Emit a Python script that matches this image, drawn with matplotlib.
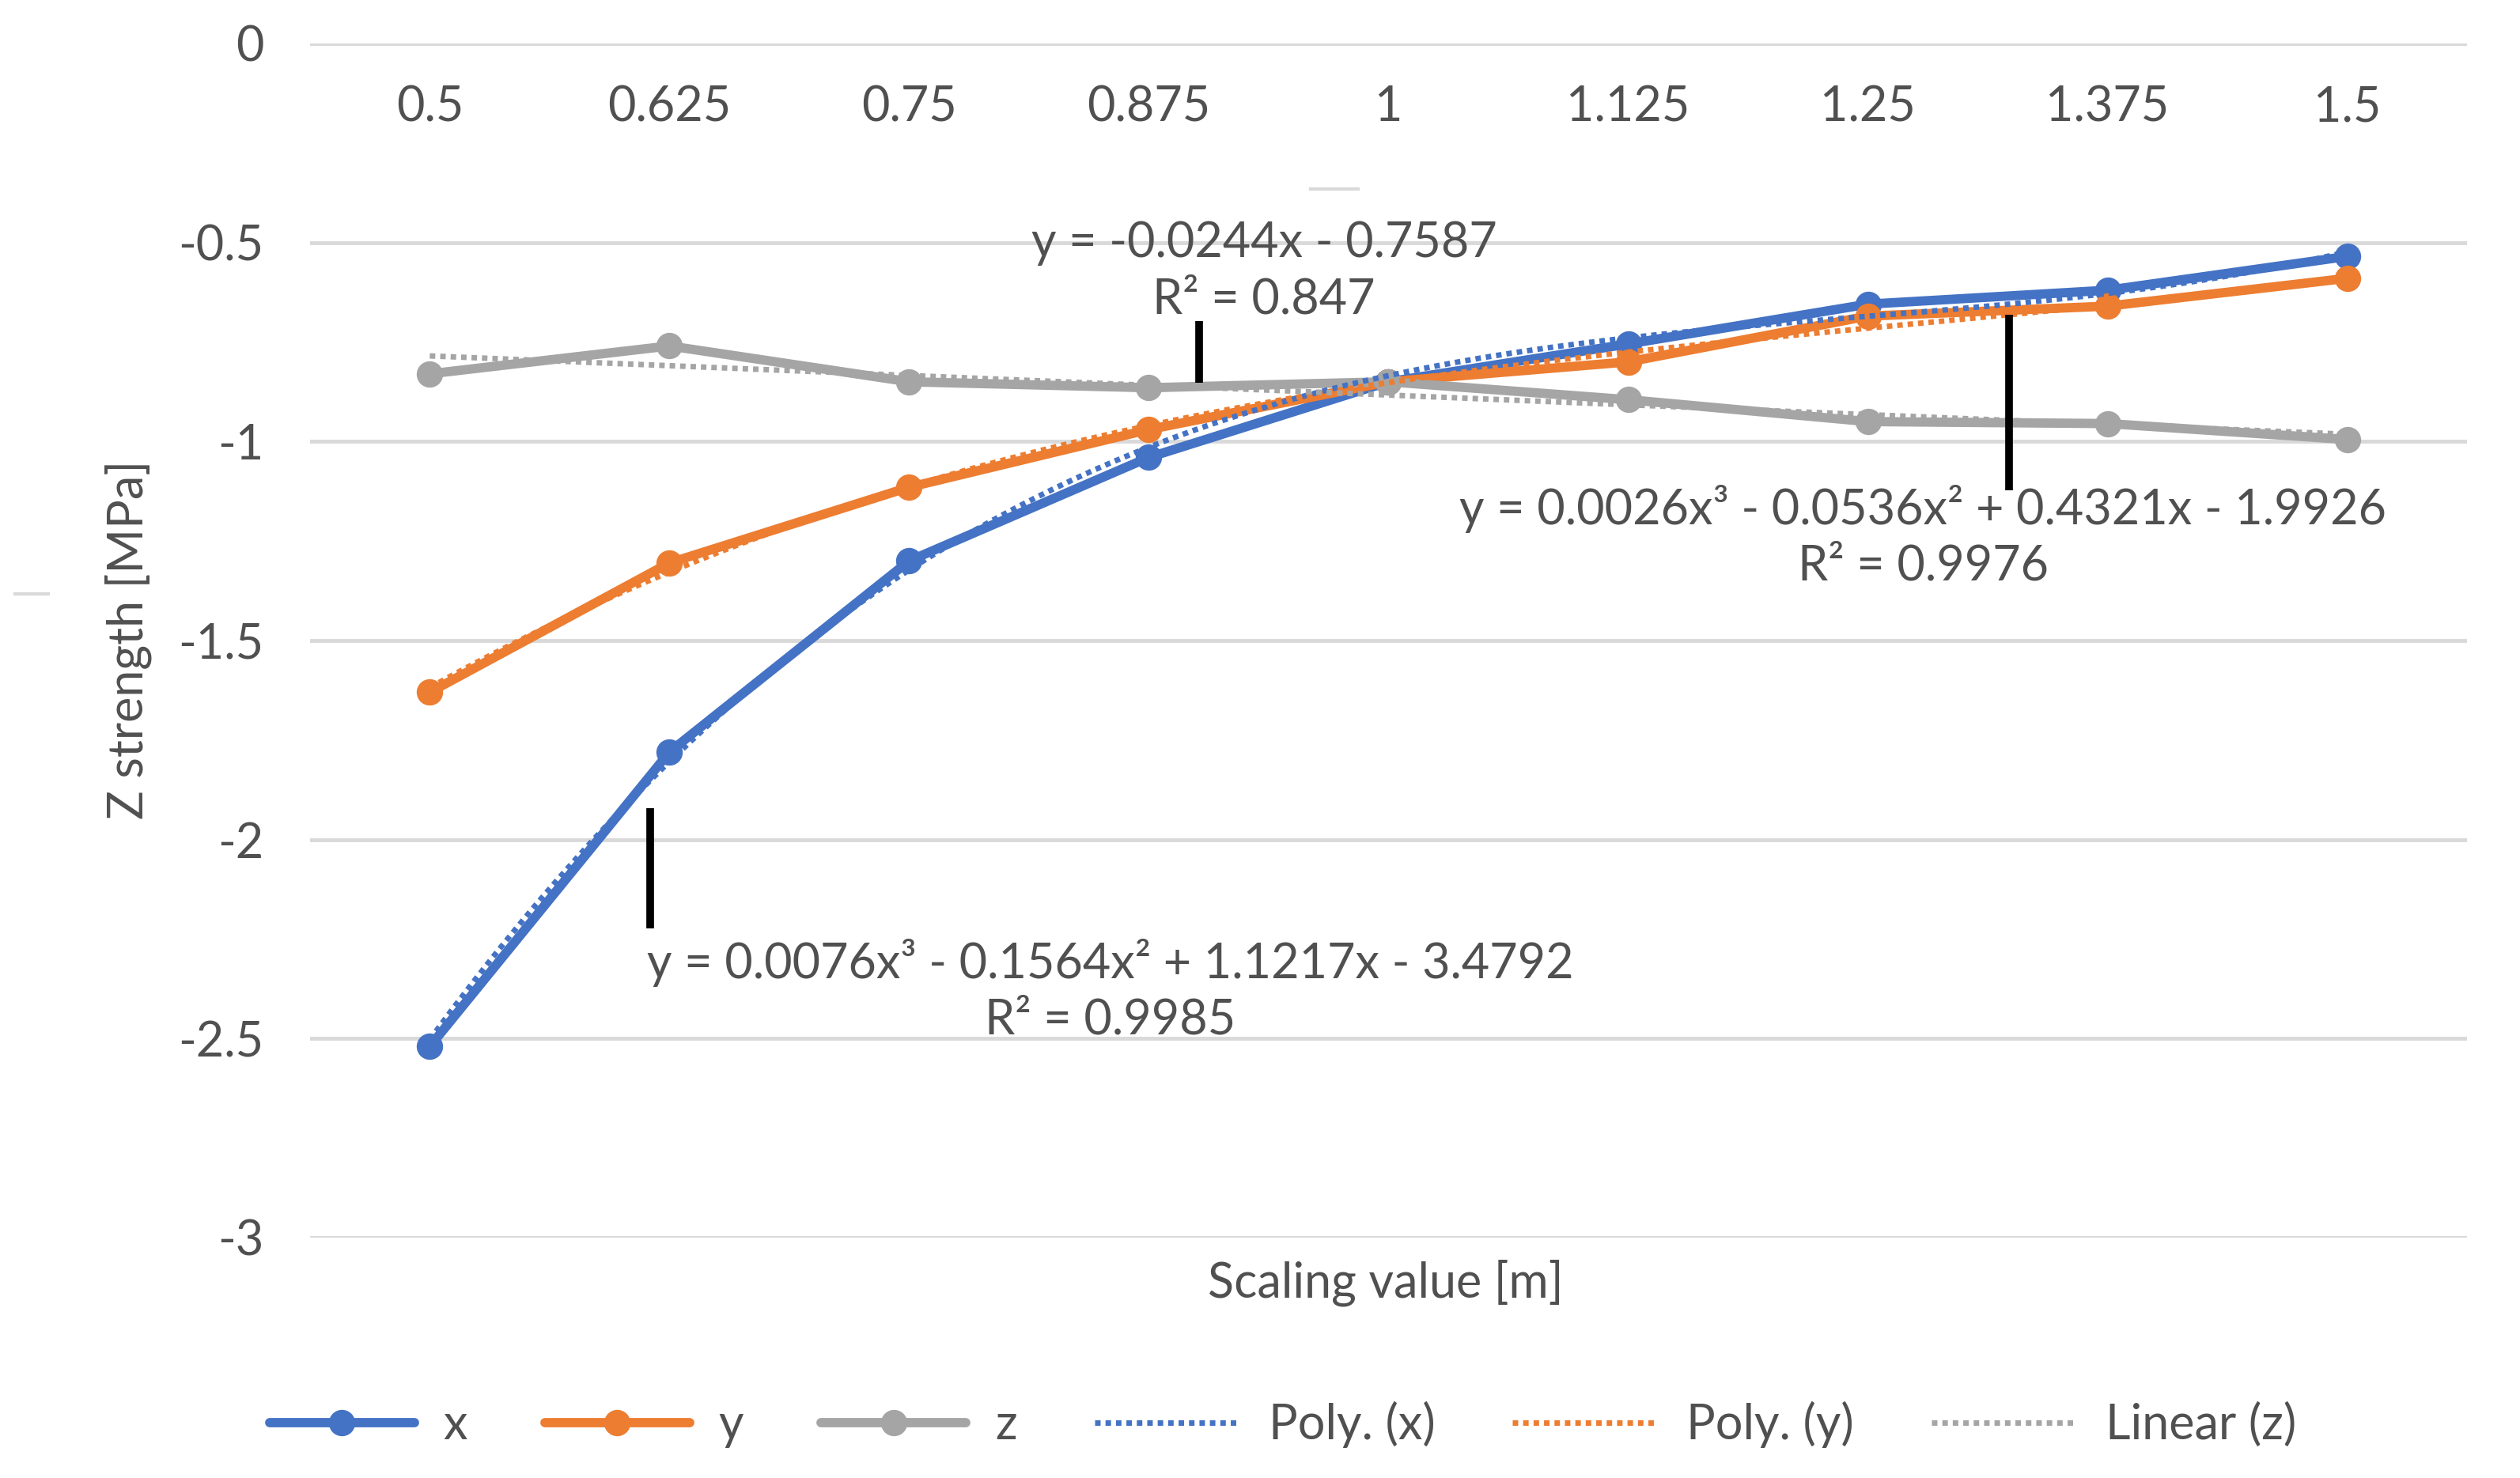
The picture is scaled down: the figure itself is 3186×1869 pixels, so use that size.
import numpy as np
import matplotlib.pyplot as plt

plt.rcParams['font.family'] = ['Lato', 'DejaVu Sans']
plt.rcParams['axes.unicode_minus'] = False

# data
categories = ['0.5', '0.625', '0.75', '0.875', '1', '1.125', '1.25', '1.375', '1.5']
x_vals = [-2.52, -1.78, -1.30, -1.04, -0.85, -0.755, -0.655, -0.62, -0.535]
y_vals = [-1.63, -1.305, -1.115, -0.97, -0.85, -0.80, -0.685, -0.66, -0.59]
z_vals = [-0.83, -0.76, -0.85, -0.865, -0.85, -0.895, -0.95, -0.955, -0.995]
y_ticks = [0, -0.5, -1, -1.5, -2, -2.5, -3]

eq_x = 'y = 0.0076x³ - 0.1564x² + 1.1217x - 3.4792\nR² = 0.9985'
eq_y = 'y = 0.0026x³ - 0.0536x² + 0.4321x - 1.9926\nR² = 0.9976'
eq_z = 'y = -0.0244x - 0.7587\nR² = 0.847'

# label positions (category index, value) and the black leader bars
eq_pos = {'x': (3.84, -2.38), 'y': (7.23, -1.24), 'z': (4.48, -0.573)}
bars = [(4.21, -0.697, -0.852), (7.59, -0.682, -1.123), (1.92, -1.921, -2.223)]

BLUE, ORANGE, GRAY = '#4472C4', '#ED7D31', '#A5A5A5'
TXT = '#505050'
FS = 44

fig = plt.figure(figsize=(31.86, 18.69), dpi=100)
ax = fig.add_axes([0.123, 0.1627, 0.856, 0.8079])

pos = np.arange(1, len(categories) + 1)
dense = np.linspace(1, len(categories), 200)

series = [('x', x_vals, BLUE, 3, 'Poly. (x)'),
          ('y', y_vals, ORANGE, 3, 'Poly. (y)'),
          ('z', z_vals, GRAY, 1, 'Linear (z)')]

main_handles, trend_handles = [], []
for name, vals, col, deg, tname in series:
    h, = ax.plot(pos, vals, color=col, lw=8.5, marker='o', ms=23,
                 solid_capstyle='round', label=name, zorder=3)
    main_handles.append(h)
for name, vals, col, deg, tname in series:
    coef = np.polyfit(pos, vals, deg)
    t, = ax.plot(dense, np.polyval(coef, dense), color=col, lw=5,
                 ls=(0, (1.0, 0.9)), label=tname, zorder=4)
    trend_handles.append(t)

for key, txt in [('x', eq_x), ('y', eq_y), ('z', eq_z)]:
    ax.text(*eq_pos[key], txt, ha='center', va='center', fontsize=FS,
            color=TXT, linespacing=1.3, zorder=5)

for bx, b0, b1 in bars:
    ax.plot([bx, bx], [b0, b1], color='black', lw=7, solid_capstyle='butt', zorder=6)

ax.set_xlim(0.5, len(categories) + 0.5)
ax.set_ylim(-3, 0)
ax.set_yticks(y_ticks)
ax.set_yticklabels([f'{v:g}' for v in y_ticks])
ax.set_xticks([])
ax.tick_params(axis='y', length=0, pad=42, labelsize=FS, labelcolor=TXT)
for s in ax.spines.values():
    s.set_visible(False)
ax.grid(axis='y', color='#D9D9D9', lw=3.5, zorder=0)
ax.set_clip_on(False)

for p, lbl in zip(pos, categories):
    ax.annotate(lbl, (p, 0), xytext=(0, -58), textcoords='offset points',
                ha='center', va='center', fontsize=FS, color=TXT)

fig.text(0.550, 0.132, 'Scaling value [m]', ha='center', va='center',
         fontsize=FS, color=TXT)
fig.text(0.051, 0.567, 'Z strength [MPa]', ha='center', va='center',
         rotation=90, fontsize=FS, color=TXT)

# faint stray marks present in the original picture
fig.add_artist(plt.Line2D([0.520, 0.539], [0.872, 0.872], color='#D9D9D9', lw=3))
fig.add_artist(plt.Line2D([0.006, 0.019], [0.598, 0.598], color='#D9D9D9', lw=3))

fig.legend(handles=main_handles + trend_handles, loc='center', ncol=6,
           bbox_to_anchor=(0.509, 0.036), frameon=False, fontsize=FS,
           handlelength=3.0, handletextpad=0.6, columnspacing=1.6,
           labelcolor=TXT)

fig.savefig('out.png', dpi=100)
